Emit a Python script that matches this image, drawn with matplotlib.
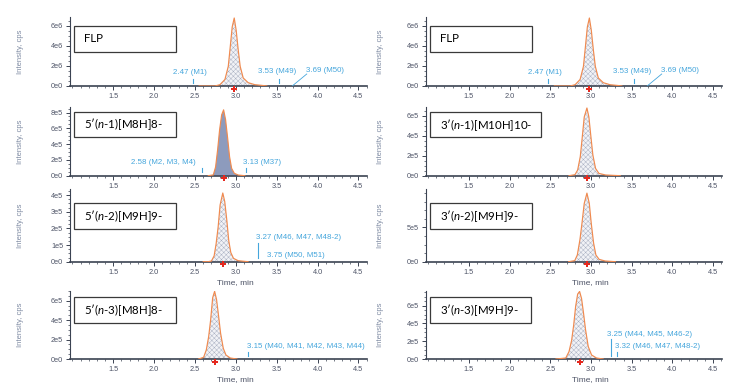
import matplotlib
matplotlib.use("Agg")
import matplotlib.pyplot as plt
from matplotlib.patches import Rectangle
from matplotlib.lines import Line2D
from matplotlib.ticker import FixedLocator, MultipleLocator, AutoMinorLocator, FuncFormatter
from matplotlib.transforms import blended_transform_factory, offset_copy
import math

plt.rcParams['font.family'] = ['Liberation Sans', 'DejaVu Sans']
plt.rcParams['hatch.linewidth'] = 0.3
plt.rcParams['mathtext.fontset'] = 'custom'
plt.rcParams['mathtext.it'] = 'Lato:italic'
plt.rcParams['mathtext.rm'] = 'Lato'

# ---------------- data ----------------
x_ticks = [1.5, 2.0, 2.5, 3.0, 3.5, 4.0, 4.5]
x_tick_labels = ['1.5', '2.0', '2.5', '3.0', '3.5', '4.0', '4.5']

# FLP (full length product) chromatogram, used in both top panels
flp_t = [2.55, 2.743, 2.805, 2.866, 2.907, 2.931, 2.955, 2.98, 3.004, 3.029, 3.053, 3.09, 3.151, 3.233, 3.355, 3.38]
flp_i = [0, 0, 0.13e6, 0.65e6, 1.96e6, 3.9e6, 5.9e6, 6.8e6, 5.56e6, 3.6e6, 1.96e6, 0.8e6, 0.33e6, 0.13e6, 0.03e6, 0]

# 5'(n-1)[M8H]8-
n1_5_t = [2.662, 2.724, 2.752, 2.777, 2.801, 2.826, 2.85, 2.874, 2.899, 2.923, 2.948, 2.981, 3.03, 3.11]
n1_5_i = [0, 0.1e5, 1.1e5, 3.3e5, 5.8e5, 7.7e5, 8.34e5, 7.1e5, 4.8e5, 2.4e5, 0.93e5, 0.3e5, 0.08e5, 0]

# 5'(n-2)[M9H]9-
n2_5_t = [2.60, 2.66, 2.701, 2.734, 2.758, 2.783, 2.807, 2.84, 2.864, 2.889, 2.913, 2.938, 2.971, 3.028, 3.109, 3.15]
n2_5_i = [0, 0, 0.04e5, 0.35e5, 1.06e5, 2.08e5, 3.4e5, 4.12e5, 3.6e5, 2.5e5, 1.26e5, 0.55e5, 0.2e5, 0.06e5, 0.02e5, 0]

# 5'(n-3)[M8H]8-
n3_5_t = [2.544, 2.605, 2.638, 2.667, 2.691, 2.716, 2.74, 2.764, 2.789, 2.813, 2.846, 2.879, 2.932, 3.013]
n3_5_i = [0, 0.17e5, 0.93e5, 2.3e5, 4.0e5, 6.3e5, 6.97e5, 6.1e5, 4.4e5, 2.66e5, 1.1e5, 0.41e5, 0.1e5, 0]

# 3'(n-1)[M10H]10-
n1_3_t = [2.73, 2.803, 2.836, 2.868, 2.893, 2.917, 2.95, 2.974, 2.999, 3.023, 3.056, 3.097, 3.18, 3.36]
n1_3_i = [0, 0.1e5, 0.57e5, 1.9e5, 3.9e5, 5.9e5, 6.8e5, 5.9e5, 3.9e5, 2.07e5, 0.73e5, 0.23e5, 0.07e5, 0]

# 3'(n-2)[M9H]9-
n2_3_t = [2.726, 2.80, 2.832, 2.864, 2.889, 2.917, 2.95, 2.979, 3.003, 3.032, 3.06, 3.10, 3.174, 3.30]
n2_3_i = [0, 0.15e5, 0.98e5, 3.2e5, 5.6e5, 8.5e5, 1.0e6, 8.5e5, 5.6e5, 2.7e5, 0.98e5, 0.34e5, 0.1e5, 0]

# 3'(n-3)[M9H]9-
n3_3_t = [2.57, 2.69, 2.73, 2.762, 2.787, 2.811, 2.836, 2.86, 2.884, 2.909, 2.933, 2.966, 3.007, 3.068, 3.15]
n3_3_i = [0, 0.11e5, 0.83e5, 2.1e5, 3.8e5, 5.9e5, 7.3e5, 7.6e5, 6.8e5, 5.1e5, 3.3e5, 1.4e5, 0.45e5, 0.11e5, 0]

apex_rt = [2.98, 2.85, 2.84, 2.74, 2.98, 2.95, 2.95, 2.86]

panel_labels = ['FLP', '5′($\\mathit{n}$-1)[M8H]8-', '5′($\\mathit{n}$-2)[M9H]9-', '5′($\\mathit{n}$-3)[M8H]8-',
                'FLP', '3′($\\mathit{n}$-1)[M10H]10-', '3′($\\mathit{n}$-2)[M9H]9-', '3′($\\mathit{n}$-3)[M9H]9-']

y_ticks = [[0, 2e6, 4e6, 6e6], [0, 2e5, 4e5, 6e5, 8e5], [0, 1e5, 2e5, 3e5, 4e5], [0, 2e5, 4e5, 6e5],
           [0, 2e6, 4e6, 6e6], [0, 2e5, 4e5, 6e5], [0, 5e5], [0, 2e5, 4e5, 6e5]]

# annotations: retention times and their labels
ann_rt = [[2.47, 3.53, 3.69], [2.58, 3.13], [3.27, 3.75], [3.15],
          [2.47, 3.53, 3.69], [], [], [3.25, 3.32]]
ann_txt = [['2.47 (M1)', '3.53 (M49)', '3.69 (M50)'], ['2.58 (M2, M3, M4)', '3.13 (M37)'],
           ['3.27 (M46, M47, M48-2)', '3.75 (M50, M51)'], ['3.15 (M40, M41, M42, M43, M44)'],
           ['2.47 (M1)', '3.53 (M49)', '3.69 (M50)'], [], [],
           ['3.25 (M44, M45, M46-2)', '3.32 (M46, M47, M48-2)']]

traces = [(flp_t, flp_i), (n1_5_t, n1_5_i), (n2_5_t, n2_5_i), (n3_5_t, n3_5_i),
          (flp_t, flp_i), (n1_3_t, n1_3_i), (n2_3_t, n2_3_i), (n3_3_t, n3_3_i)]

# ---------------- layout / style ----------------
W, H = 750, 392
rows_px = [(17, 86), (107, 175.7), (189, 261.7), (291, 359)]
cols_px = [(70, 367), (425.7, 721.7)]
ylabel_x = [20, 380]
xlim = (0.97, 4.605)
y_tops = [6.9e6, 8.7e5, 4.36e5, 7.0e5, 6.9e6, 6.9e5, 1.06e6, 7.65e5]
box_px = [(74, 25.7, 176, 51.7), (74, 112, 176, 137), (74, 203, 176, 229), (74, 297, 176, 323),
          (430, 25.7, 531.7, 51.7), (430, 112, 540.7, 137.3), (430, 203, 531.7, 229), (430, 297, 530.7, 323)]
# per annotation: (text dx px, text dy px, ha, tick bottom px, tick top px, leader)
ann_style = [[(-2.6, 13.3, 'center', 3, 7, False), (-2.5, 14.3, 'center', 3, 7, False), (33, 15.3, 'center', 0, 0, True)],
             [(-5.5, 13, 'right', 3.4, 7.4, False), (-3, 13, 'left', 3.4, 7.4, False)],
             [(-2, 24.4, 'left', 4, 18.4, False), (-1, 6, 'center', 0, 0, False)],
             [(-1.4, 13, 'left', 3.3, 7.3, False)],
             [(-3.3, 13.3, 'center', 3, 7, False), (-2.5, 14.3, 'center', 3, 7, False), (33, 15.3, 'center', 0, 0, True)],
             [], [],
             [(-4, 24, 'left', 3, 19.7, False), (-2.3, 13, 'left', 3.3, 7.3, False)]]

orange = '#f08a4f'
ann_col = '#45a6dc'
axis_col = '#3b4352'
tick_lbl_col = '#4d5366'
ylab_col = '#7f8ba3'


def sci_fmt(v, pos=None):
    if v == 0:
        return '0e0'
    e = int(math.floor(math.log10(abs(v)) + 1e-9))
    m = int(round(v / 10 ** e))
    return f'{m}e{e}'


fig = plt.figure(figsize=(W / 100, H / 100), dpi=100)
fig.patch.set_facecolor('white')

for k in range(8):
    col, row = divmod(k, 4)
    x0, x1 = cols_px[col]
    top, bot = rows_px[row]
    ax = fig.add_axes([x0 / W, 1 - bot / H, (x1 - x0) / W, (bot - top) / H])
    t, inten = traces[k]
    if k == 1:
        ax.fill_between(t, 0, inten, facecolor='#8d9bbd', edgecolor='none', zorder=2)
    else:
        ax.fill_between(t, 0, inten, facecolor='#f1f2f6', edgecolor='#a3aabd', hatch='xxxxxxx',
                        linewidth=0, zorder=2)
    ax.plot(t, inten, color=orange, lw=0.85, zorder=3)

    ax.set_xlim(*xlim)
    ax.set_ylim(0, y_tops[k])
    ax.xaxis.set_major_locator(FixedLocator(x_ticks))
    ax.set_xticklabels(x_tick_labels)
    ax.xaxis.set_minor_locator(MultipleLocator(0.1))
    ax.yaxis.set_major_locator(FixedLocator(y_ticks[k]))
    ax.yaxis.set_major_formatter(FuncFormatter(sci_fmt))
    ax.yaxis.set_minor_locator(AutoMinorLocator(4))
    for s in ['top', 'right']:
        ax.spines[s].set_visible(False)
    for s in ['left', 'bottom']:
        ax.spines[s].set_color(axis_col)
    ax.spines['bottom'].set_linewidth(1.2)
    ax.spines['left'].set_linewidth(0.8)
    ax.tick_params(axis='both', which='major', length=3, width=0.7, color=axis_col,
                   labelsize=5.3, labelcolor=tick_lbl_col, pad=2)
    ax.tick_params(axis='both', which='minor', length=1.5, width=0.5, color=axis_col)
    ax.patch.set_alpha(0)

    # apex marker
    mk_tr = offset_copy(ax.transData, fig=fig, x=0, y=-2.5, units='dots')
    ax.plot([apex_rt[k]], [0], marker='P', color='#e5281e', ms=4.2, mew=0, transform=mk_tr,
            clip_on=False, zorder=6)

    # annotations
    hpx = bot - top
    ppu = (x1 - x0) / (xlim[1] - xlim[0])
    btr = blended_transform_factory(ax.transData, ax.transAxes)
    for rt, txt, st in zip(ann_rt[k], ann_txt[k], ann_style[k]):
        dx, dy, ha, tb, tt, leader = st
        ttr = offset_copy(btr, fig=fig, x=dx, y=0, units='dots')
        ax.text(rt, dy / hpx, txt, transform=ttr, ha=ha, va='center', fontsize=5.7,
                color=ann_col, zorder=5, clip_on=False)
        if tt > tb:
            ax.add_line(Line2D([rt, rt], [tb / hpx, tt / hpx], transform=btr, color=ann_col,
                               lw=0.8, zorder=5))
        if leader:
            ax.add_line(Line2D([rt, rt + 14.5 / ppu], [0, 12 / hpx], transform=btr, color=ann_col,
                               lw=0.6, zorder=5))

    # y label
    fig.text(ylabel_x[col] / W, 1 - (top + bot) / 2 / H, 'Intensity, cps', rotation=90,
             ha='center', va='center', fontsize=5.5, color=ylab_col)
    # x label for lower rows
    if row >= 2:
        fig.text((x0 + 0.556 * (x1 - x0)) / W, 1 - (bot + 21) / H, 'Time, min', ha='center',
                 va='center', fontsize=6, color=tick_lbl_col)

    # label box
    bx0, by0, bx1, by1 = box_px[k]
    fig.add_artist(Rectangle((bx0 / W, 1 - by1 / H), (bx1 - bx0) / W, (by1 - by0) / H,
                             transform=fig.transFigure, facecolor='white', edgecolor='#3a3a3a',
                             lw=0.9, zorder=10))
    fig.text((bx0 + 10) / W, 1 - (by0 + by1) / 2 / H, panel_labels[k], ha='left', va='center',
             fontsize=8.3, family='Lato', color='black', zorder=11)

fig.savefig('out.png', dpi=100)
